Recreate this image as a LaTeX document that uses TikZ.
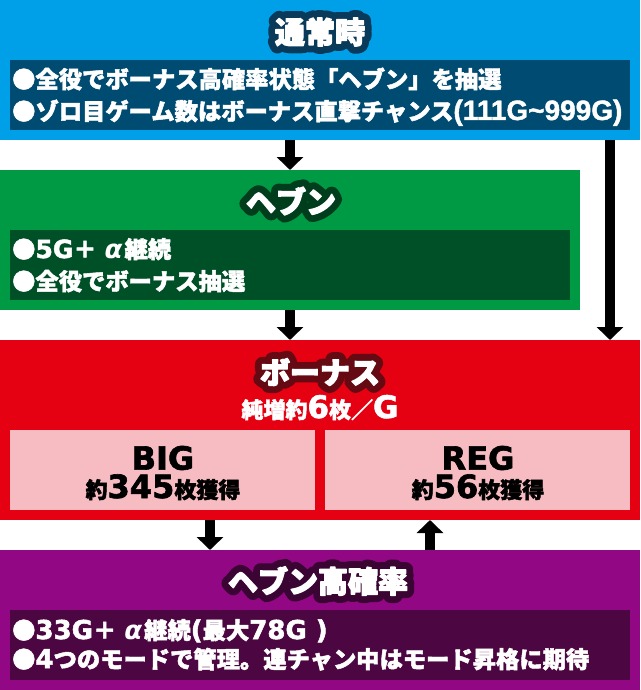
\documentclass[tikz,border=0pt]{standalone}
\usepackage{fontspec}
\newfontfamily\jp{Noto Sans CJK JP}[BoldFeatures={FakeBold=2}]
\newfontfamily\jpt{Noto Sans CJK JP}[BoldFeatures={FakeBold=4}]
\newfontfamily\jpo{Noto Sans CJK JP}[BoldFeatures={FakeBold=50}]
\newfontfamily\dv{DejaVu Sans}[BoldFeatures={FakeBold=2}]
\newfontfamily\lib{Liberation Sans}[BoldFeatures={FakeBold=1.5}]
\usetikzlibrary{arrows.meta}
\definecolor{cBlue}{HTML}{00A0E9}
\definecolor{cBlueD}{HTML}{004B71}
\definecolor{cBlueO}{HTML}{0A3A5A}
\definecolor{cGreen}{HTML}{009944}
\definecolor{cGreenD}{HTML}{005027}
\definecolor{cGreenO}{HTML}{003D1C}
\definecolor{cRed}{HTML}{E50012}
\definecolor{cRedO}{HTML}{650A12}
\definecolor{cPink}{HTML}{F7BBC2}
\definecolor{cPurple}{HTML}{920783}
\definecolor{cPurpleD}{HTML}{4C0641}
\definecolor{cPurpleO}{HTML}{3A0533}
\newcommand\olt[2]{\hbox{\special{pdf:literal direct 1 j 1 J}\rlap{\color{#1}\jpo\bfseries #2}\color{white}\jpt\bfseries #2}}
\newcommand\Ld[2]{{\dv\bfseries\fontsize{#1}{#1}\selectfont #2}}
\newcommand\Alp{\hspace{8pt}{\dv\bfseries\itshape\fontsize{26pt}{26pt}\selectfont α}\hspace{2pt}}
\tikzset{
  panel/.style={anchor=north west, inner sep=0pt, outer sep=0pt, draw=none},
  ttl/.style={inner sep=0pt, font={\fontsize{30pt}{32pt}\selectfont}},
  txtline/.style={anchor=base west, inner sep=0pt, text=white, font={\jp\bfseries\fontsize{23.3pt}{25pt}\selectfont}},
  sub/.style={anchor=base, inner sep=0pt, font={\jp\bfseries\fontsize{22pt}{24pt}\selectfont}},
  big/.style={inner sep=0pt, text=black},
  arr/.style={line width=10pt, -{Triangle[width=26pt,length=13pt]}, black}
}
\begin{document}
\begin{tikzpicture}[x=1pt,y=-1pt]
\useasboundingbox (0,0) rectangle (640,690);
\fill[white] (0,0) rectangle (640,690);
% normal
\node[panel, fill=cBlue, minimum width=640pt, minimum height=140pt] (normal) at (0,0) {};
\node[panel, fill=cBlueD, minimum width=620pt, minimum height=70pt] (normalin) at (10,60) {};
\node[ttl] (normalt) at (320,32) {\olt{cBlueO}{通常時}};
\node[txtline] (n1) at (12,88) {●全役でボーナス高確率状態「ヘブン」を抽選};
\node[txtline] (n2) at (12,120) {●ゾロ目ゲーム数はボーナス直撃チャンス{\lib\bfseries\fontsize{28pt}{28pt}\selectfont(111G\symbol{"7E}999G)}};
% heaven
\node[panel, fill=cGreen, minimum width=580pt, minimum height=140pt] (heaven) at (0,170) {};
\node[panel, fill=cGreenD, minimum width=560pt, minimum height=70pt] (heavenin) at (10,230) {};
\node[ttl] (heavent) at (291,201) {\olt{cGreenO}{ヘブン}};
\node[txtline] (h1) at (12,258) {●\Ld{25pt}{5G}＋\Alp 継続};
\node[txtline] (h2) at (12,290) {●全役でボーナス抽選};
% bonus
\node[panel, fill=cRed, minimum width=640pt, minimum height=180pt] (bonus) at (0,340) {};
\node[ttl] (bonust) at (320,372) {\olt{cRedO}{ボーナス}};
\node[sub, text=white] (bonuss) at (320,418) {純増約\Ld{31pt}{6}枚／\Ld{31pt}{G}};
\node[panel, fill=cPink, minimum width=305pt, minimum height=80pt] (bigbox) at (10,430) {};
\node[panel, fill=cPink, minimum width=305pt, minimum height=80pt] (regbox) at (325,430) {};
\node[big] (bigt) at (163,458) {\Ld{32pt}{BIG}};
\node[sub, text=black] (bigs) at (163,498) {約\Ld{32pt}{345}枚獲得};
\node[big] (regt) at (478,458) {\Ld{32pt}{REG}};
\node[sub, text=black] (regs) at (478,498) {約\Ld{32pt}{56}枚獲得};
% high
\node[panel, fill=cPurple, minimum width=640pt, minimum height=140pt] (high) at (0,550) {};
\node[panel, fill=cPurpleD, minimum width=620pt, minimum height=70pt] (highin) at (10,610) {};
\node[ttl] (hight) at (318,581) {\olt{cPurpleO}{ヘブン高確率}};
\node[txtline] (p1) at (12,639) {●\Ld{26pt}{33G}＋\Alp 継続\Ld{26pt}{(}最大\Ld{26pt}{78G\hspace{9pt})}};
\node[txtline] (p2) at (12,668) {●\Ld{26pt}{4}つのモードで管理。連チャン中はモード昇格に期待};
% arrows
\coordinate (xa) at (290,0);
\coordinate (xb) at (610,0);
\coordinate (xc) at (210,0);
\coordinate (xd) at (430,0);
\draw[arr] (normal.south -| xa) -- (heaven.north -| xa);
\draw[arr] (heaven.south -| xa) -- (bonus.north -| xa);
\draw[arr] (normal.south -| xb) -- (bonus.north -| xb);
\draw[arr] (bonus.south -| xc) -- (high.north -| xc);
\draw[arr] (high.north -| xd) -- (bonus.south -| xd);
\end{tikzpicture}
\end{document}
